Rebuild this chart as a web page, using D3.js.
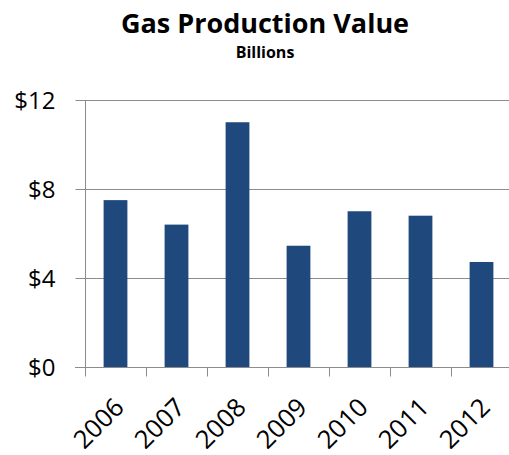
<!DOCTYPE html>
<html>
<head>
<meta charset="utf-8">
<script src="https://cdn.jsdelivr.net/npm/d3@7"></script>
<style>
  html, body { margin: 0; padding: 0; background: #fff; }
  svg { display: block; }
  text { font-family: "Open Sans", "Noto Sans", sans-serif; fill: #000; }
</style>
</head>
<body>
<div id="chart"></div>
<script>
const years = ["2006", "2007", "2008", "2009", "2010", "2011", "2012"];
const values = [7.5, 6.4, 11.0, 5.45, 7.0, 6.8, 4.72];
const yTicks = [0, 4, 8, 12];
const title = "Gas Production Value";
const subtitle = "Billions";

const W = 509, H = 455;
const margin = { left: 85, right: -3, top: 100, bottom: 88 };

const svg = d3.select("#chart").append("svg")
  .attr("width", W).attr("height", H);

const x = d3.scaleBand()
  .domain(years)
  .range([margin.left, W - margin.right])
  .padding(0);

const y = d3.scaleLinear()
  .domain([0, 12])
  .range([H - margin.bottom, margin.top]);

const gridColor = "#8c8c8c";

// Gridlines
svg.append("g").selectAll("line")
  .data(yTicks.filter(d => d > 0))
  .join("line")
  .attr("x1", margin.left).attr("x2", W)
  .attr("y1", d => Math.round(y(d)) + 0.5).attr("y2", d => Math.round(y(d)) + 0.5)
  .attr("stroke", gridColor).attr("stroke-width", 1);

// Bars
const barFrac = 0.39;
svg.append("g").selectAll("rect")
  .data(years.map((k, i) => ({ k, v: values[i] })))
  .join("rect")
  .attr("x", d => x(d.k) + x.bandwidth() * (1 - barFrac) / 2)
  .attr("width", x.bandwidth() * barFrac)
  .attr("y", d => y(d.v))
  .attr("height", d => y(0) - y(d.v))
  .attr("fill", "#1F497D");

// Y axis
const yAxis = d3.axisLeft(y)
  .tickValues(yTicks)
  .tickFormat(d => "$" + d)
  .tickSize(10)
  .tickPadding(20);
const gy = svg.append("g")
  .attr("transform", `translate(${margin.left + 0.5},0)`)
  .call(yAxis);
gy.selectAll(".domain").attr("stroke", gridColor).attr("d", `M0,${y(12)}V${y(0)}`);
gy.selectAll(".tick line").attr("stroke", gridColor);
gy.selectAll(".tick text")
  .attr("font-size", 24)
  .attr("font-family", "'Open Sans', sans-serif")
  .attr("fill", "#000")
  .attr("dy", "0.36em");

// X axis
const gx = svg.append("g")
  .attr("transform", `translate(0,${Math.round(y(0)) + 0.5})`);
gx.append("line")
  .attr("x1", margin.left - 10).attr("x2", W)
  .attr("stroke", gridColor);
const boundaries = years.map(k => x(k)).concat([x(years[years.length - 1]) + x.bandwidth()]);
gx.selectAll("line.tk")
  .data(boundaries)
  .join("line").attr("class", "tk")
  .attr("x1", d => Math.round(d) + 0.5).attr("x2", d => Math.round(d) + 0.5)
  .attr("y1", 0).attr("y2", 9)
  .attr("stroke", gridColor);
const xLab = d3.axisBottom(x).tickSize(0).tickPadding(0);
const gl = svg.append("g")
  .attr("transform", `translate(0,${y(0)})`)
  .call(xLab);
gl.select(".domain").remove();
gl.selectAll(".tick text")
  .attr("font-size", 25.5)
  .attr("font-family", "'Open Sans', sans-serif")
  .attr("fill", "#000")
  .attr("text-anchor", "end")
  .attr("dy", 0)
  .attr("y", 0)
  .attr("transform", "translate(10,42) rotate(-45)");

// Titles
svg.append("text")
  .attr("x", 265).attr("y", 33)
  .attr("text-anchor", "middle")
  .attr("font-weight", "bold")
  .attr("font-size", 27)
  .text(title);
svg.append("text")
  .attr("x", 265).attr("y", 58)
  .attr("text-anchor", "middle")
  .attr("font-weight", "bold")
  .attr("font-size", 16)
  .text(subtitle);
</script>
</body>
</html>
